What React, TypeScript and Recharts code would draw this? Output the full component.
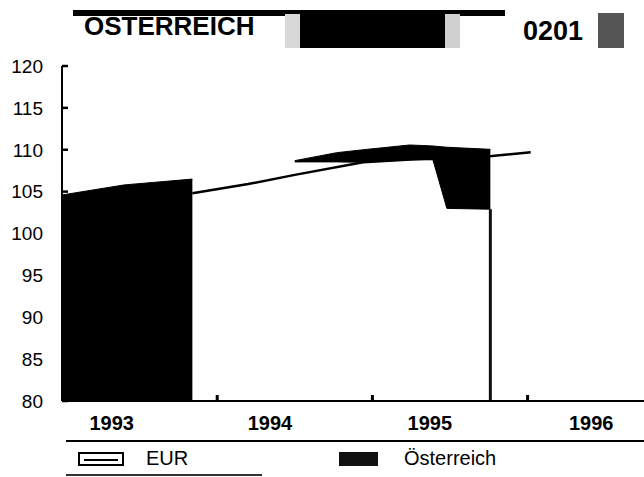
import React from 'react';
import { ComposedChart, Area, Line, XAxis, YAxis, ReferenceLine } from 'recharts';

// EUR index line
const eurYears = [1993.84, 1994.2, 1994.5, 1994.94, 1995.3, 1995.77, 1996.02];
const eurValues = [104.8, 105.9, 107.0, 108.5, 108.9, 109.25, 109.7];

// Österreich (visible black band in the scan: low/high bounds)
const atYears = [1993.0, 1993.4, 1993.84, 1994.2, 1994.5, 1994.77, 1994.94, 1995.24, 1995.39, 1995.48, 1995.76];
const atHigh = [104.6, 105.8, 106.5, null, 108.7, 109.65, 110.0, 110.57, 110.45, 110.3, 110.05];
const atLow = [80, 80, 80, null, 108.55, 108.55, 108.5, 108.8, 108.8, 103.0, 102.9];
const atEdge = { year: 1995.76, from: 80, to: 102.9 };

const yTicks = [80, 85, 90, 95, 100, 105, 110, 115, 120];
const xTickYears = [1994, 1995, 1996];
const xLabelPos = [1993.32, 1994.34, 1995.37, 1996.41];
const xLabels = ['1993', '1994', '1995', '1996'];

const title = 'ÖSTERREICH';
const code = '0201';
const legendEur = 'EUR';
const legendAt = 'Österreich';

const eurData = eurYears.map((x, i) => ({ x, eur: eurValues[i] }));
const atData = atYears.map((x, i) => ({
  x,
  at: atHigh[i] == null ? null : [atLow[i], atHigh[i]],
}));

const FONT = '"Liberation Sans", Arial, Helvetica, sans-serif';
const abs = (s: React.CSSProperties): React.CSSProperties => ({ position: 'absolute', ...s });

const Y_MARGIN = 19;

const YTick = (props: any) => {
  const { x, y, payload } = props;
  const ax = x + Y_MARGIN;
  return (
    <g>
      <line x1={ax} x2={ax + 6} y1={y} y2={y} stroke="#000" strokeWidth={2.5} />
      <text x={x} y={y} dy="0.36em" textAnchor="end" fontSize={19} fontFamily={FONT} fill="#000">
        {payload.value}
      </text>
    </g>
  );
};

const XTickMark = (props: any) => {
  const { x, y } = props;
  return <line x1={x} x2={x} y1={y} y2={y - 6} stroke="#000" strokeWidth={3} />;
};

export default function App() {
  return (
    <div style={abs({ left: 0, top: 0, width: 644, height: 477, background: '#fff', overflow: 'hidden', fontFamily: FONT })}>
      <div style={abs({ left: 0, top: 0 })}>
        <ComposedChart width={644} height={477} margin={{ top: 66, right: 0, bottom: 36, left: 0 }}>
          <XAxis
            xAxisId="a"
            dataKey="x"
            type="number"
            domain={[1993, 1996.75]}
            allowDataOverflow
            ticks={xTickYears}
            interval={0}
            tick={(p: any) => <XTickMark {...p} />}
            tickLine={false}
            tickSize={0}
            tickMargin={0}
            height={1}
            axisLine={{ stroke: '#000', strokeWidth: 2 }}
          />
          <XAxis
            xAxisId="b"
            dataKey="x"
            type="number"
            domain={[1993, 1996.75]}
            allowDataOverflow
            ticks={xLabelPos}
            interval={0}
            tickFormatter={(v: number) => xLabels[xLabelPos.indexOf(v)] ?? ''}
            axisLine={false}
            tickLine={false}
            tickSize={0}
            tickMargin={14}
            height={39}
            tick={{ fill: '#000', fontSize: 20, fontWeight: 'bold', fontFamily: FONT }}
          />
          <YAxis
            type="number"
            domain={[80, 120]}
            allowDataOverflow
            ticks={yTicks}
            interval={0}
            width={62}
            tickSize={0}
            tickMargin={Y_MARGIN}
            tickLine={false}
            axisLine={{ stroke: '#000', strokeWidth: 2 }}
            tick={(p: any) => <YTick {...p} />}
          />
          <Area
            xAxisId="a"
            data={atData}
            dataKey="at"
            name={legendAt}
            type="linear"
            fill="#000"
            fillOpacity={1}
            stroke="#000"
            strokeWidth={1}
            connectNulls={false}
            isAnimationActive={false}
            dot={false}
            activeDot={false}
          />
          <ReferenceLine
            xAxisId="a"
            segment={[{ x: atEdge.year, y: atEdge.from }, { x: atEdge.year, y: atEdge.to }]}
            stroke="#111"
            strokeWidth={3}
          />
          <Line
            xAxisId="a"
            data={eurData}
            dataKey="eur"
            name={legendEur}
            type="linear"
            stroke="#000"
            strokeWidth={2.5}
            dot={false}
            activeDot={false}
            isAnimationActive={false}
          />
        </ComposedChart>
      </div>

      {/* header */}
      <div style={abs({ left: 73, top: 10, width: 432, height: 6, background: '#000' })} />
      <div style={abs({ left: 84, top: 13, fontSize: 26, lineHeight: '26px', fontWeight: 'bold', color: '#000', whiteSpace: 'nowrap' })}>{title}</div>
      <div style={abs({ left: 285, top: 14, width: 15, height: 34, background: '#d8d8d8' })} />
      <div style={abs({ left: 300, top: 12, width: 145, height: 36, background: '#000' })} />
      <div style={abs({ left: 445, top: 14, width: 15, height: 34, background: '#d0d0d0' })} />
      <div style={abs({ left: 523, top: 18, fontSize: 27, lineHeight: '27px', fontWeight: 'bold', color: '#000', whiteSpace: 'nowrap' })}>{code}</div>
      <div style={abs({ left: 598, top: 13, width: 26, height: 35, background: '#555' })} />

      {/* rules and legend */}
      <div style={abs({ left: 66, top: 440, width: 578, height: 2, background: '#000' })} />
      <div style={abs({ left: 78, top: 452, width: 42, height: 10, border: '2px solid #000', background: '#fff' })}>
        <div style={abs({ left: 4, top: 5, width: 34, height: 2, background: '#000' })} />
      </div>
      <div style={abs({ left: 146, top: 448, fontSize: 20, lineHeight: '20px', color: '#000', whiteSpace: 'nowrap' })}>{legendEur}</div>
      <div style={abs({ left: 339, top: 452, width: 39, height: 14, background: '#111' })} />
      <div style={abs({ left: 404, top: 448, fontSize: 20, lineHeight: '20px', color: '#000', whiteSpace: 'nowrap' })}>{legendAt}</div>
      <div style={abs({ left: 66, top: 474, width: 196, height: 2, background: '#333' })} />
    </div>
  );
}
